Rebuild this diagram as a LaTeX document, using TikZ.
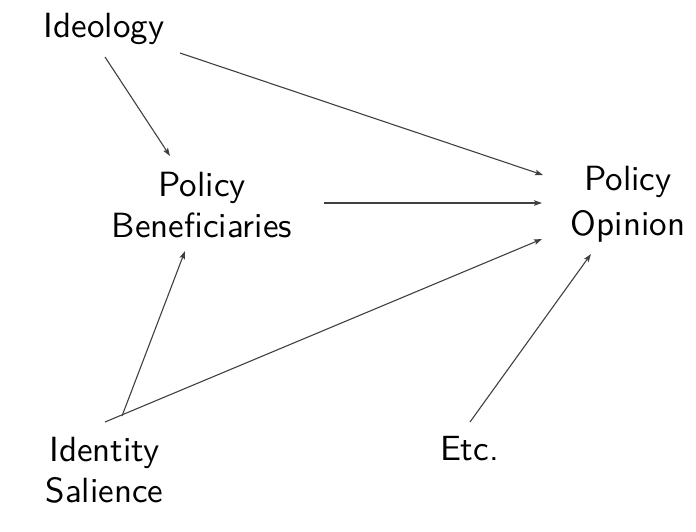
\documentclass[tikz,border=0pt]{standalone}
\usetikzlibrary{arrows.meta}
\begin{document}
\begin{tikzpicture}[x=1pt,y=-1pt,
  lbl/.style={anchor=north,inner sep=0pt,outer sep=0pt,align=center,scale=3.5,
    font=\sffamily\fontsize{10}{11.71}\selectfont},
  arr/.style={-{Stealth[length=8pt,width=5.5pt,inset=1.5pt]},line width=1.1pt,draw=black!75}]
\useasboundingbox (0,0) rectangle (696,531);
\node[lbl] (ideo) at (104,13) {Ideology};
\node[lbl] (ben) at (202,172) {Policy\\Beneficiaries};
\node[lbl,font=\sffamily\fontsize{10}{12.86}\selectfont] (op) at (628,166) {Policy\\Opinion};
\node[lbl] (iden) at (104.5,437) {Identity\\Salience};
\node[lbl] (etc) at (469.5,436) {Etc.};
\coordinate (ideoA) at (105,57);
\coordinate (ideoB) at (180,53);
\coordinate (benN) at (170,156);
\coordinate (benE) at (324,203);
\coordinate (benS) at (185,251);
\coordinate (opA) at (543,175);
\coordinate (opB) at (542,203);
\coordinate (opC) at (542,239);
\coordinate (opD) at (591,254);
\coordinate (idenA) at (105,422);
\coordinate (idenB) at (122,416);
\coordinate (etcA) at (470,422);
\draw[arr] (ideoA) -- (benN);
\draw[arr] (ideoB) -- (opA);
\draw[arr] (benE) -- (opB);
\draw[arr] (idenA) -- (opC);
\draw[arr] (idenB) -- (benS);
\draw[arr] (etcA) -- (opD);
\end{tikzpicture}
\end{document}
